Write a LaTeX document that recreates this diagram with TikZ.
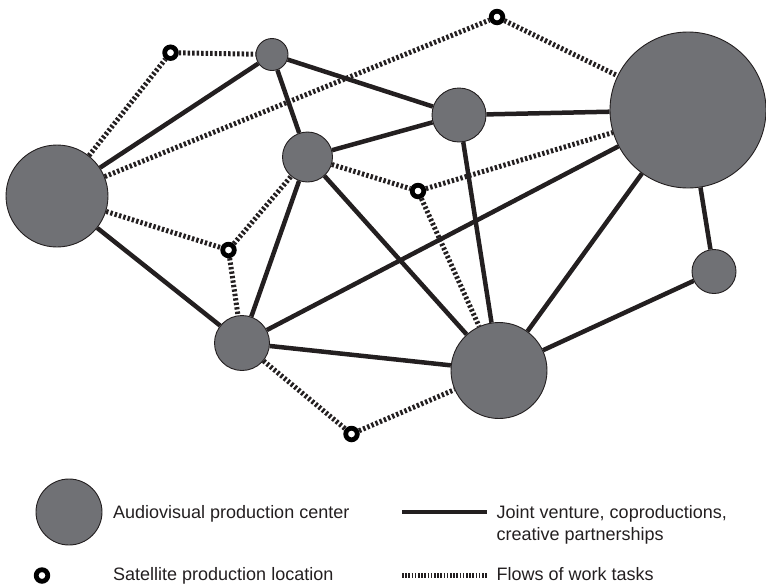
\documentclass[tikz,border=0pt]{standalone}
\usepackage{fontspec}
\setmainfont{Liberation Sans}
\definecolor{nodegray}{RGB}{112,113,117}
\definecolor{linec}{RGB}{35,31,32}
\begin{document}
\begin{tikzpicture}[x=1pt,y=-1pt,
  center/.style={circle,draw=linec,line width=0.9pt,fill=nodegray,minimum size=#1,inner sep=0pt},
  sat/.style={circle,draw=black,line width=4.8pt,fill=white,minimum size=11.6pt,inner sep=0pt},
  joint/.style={draw=linec,line width=4.5pt},
  flow/.style={draw=linec,line width=5pt,dash pattern=on 2.4pt off 2.1pt},
  flowleg/.style={draw=linec,line width=5pt,dash pattern=on 1.6pt off 1.6pt},
  label/.style={anchor=base west,inner sep=0pt,font=\fontsize{18}{21}\selectfont,text=linec}]
\useasboundingbox (0,0) rectangle (766,584);
% production centers
\node[center=102pt] (L) at (57,196) {};
\node[center=32pt] (T) at (272,54.5) {};
\node[center=50pt] (B) at (307.5,157) {};
\node[center=54pt] (C) at (459,115) {};
\node[center=156pt] (R) at (688,110) {};
\node[center=44pt] (Q) at (714,271.5) {};
\node[center=96pt] (D) at (499,370.5) {};
\node[center=55pt] (E) at (242,343) {};
% satellites
\node[sat] (s1) at (170.5,52.7) {};
\node[sat] (s2) at (497,17) {};
\node[sat] (s3) at (418,191) {};
\node[sat] (s4) at (228.5,250) {};
\node[sat] (s5) at (351.5,434) {};
% joint ventures
\draw[joint] (L) -- (T);
\draw[joint] (T) -- (C);
\draw[joint] (T) -- (B);
\draw[joint] (B) -- (C);
\draw[joint] (C) -- (R);
\draw[joint] (C) -- (D);
\draw[joint] (B) -- (E);
\draw[joint] (B) -- (D);
\draw[joint] (L) -- (E);
\draw[joint] (E) -- (R);
\draw[joint] (E) -- (D);
\draw[joint] (D) -- (R);
\draw[joint] (D) -- (Q);
\draw[joint] (R) -- (Q);
% flows of work tasks
\draw[flow] (L) -- (s1);
\draw[flow] (s1) -- (T);
\draw[flow] (L) -- (s2);
\draw[flow] (s2) -- (R);
\draw[flow] (L) -- (s4);
\draw[flow] (s4) -- (B);
\draw[flow] (s4) -- (E);
\draw[flow] (B) -- (s3);
\draw[flow] (s3) -- (R);
\draw[flow] (s3) -- (D);
\draw[flow] (E) -- (s5);
\draw[flow] (s5) -- (D);
% legend
\node[center=66pt] (lc) at (69,512) {};
\node[label] (lt1) at (113,518.4) {Audiovisual production center};
\node[sat] (ls) at (42,575.5) {};
\node[label] (lt2) at (113,580) {Satellite production location};
\coordinate (j1) at (402,512);
\coordinate (j2) at (486.5,512);
\draw[joint] (j1) -- (j2);
\node[label] (lt3) at (496.5,518.4) {Joint venture, coproductions,};
\node[label] (lt4) at (496.5,540.4) {creative partnerships};
\coordinate (f1) at (402,575.5);
\coordinate (f2) at (486.5,575.5);
\draw[flowleg] (f1) -- (f2);
\node[label] (lt5) at (496.5,580) {Flows of work tasks};
\end{tikzpicture}
\end{document}
